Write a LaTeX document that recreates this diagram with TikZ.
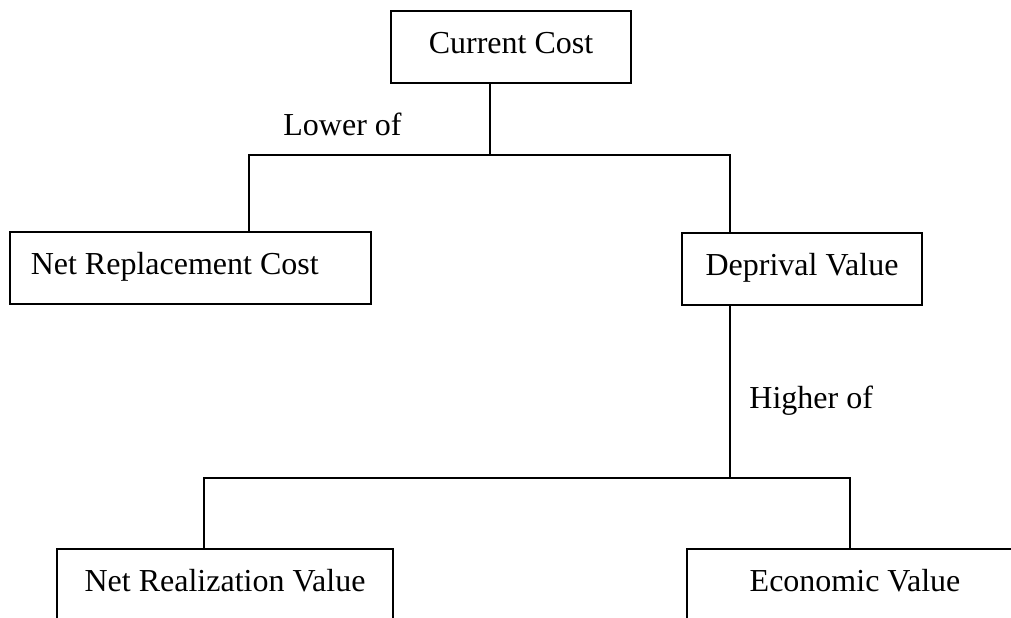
\documentclass[tikz,border=0pt]{standalone}
\usepackage{fontspec}
\setmainfont{Liberation Serif}
\usetikzlibrary{positioning}

\begin{document}
\begin{tikzpicture}[x=0.5pt, y=-0.5pt,
		every node/.style={font=\fontsize{16pt}{19pt}\selectfont},
		box/.style={draw, line width=0.75pt, inner xsep=0pt, inner ysep=0pt, text height=21pt, text depth=15pt},
		tag/.style={inner sep=0pt, anchor=base west},
		wire/.style={line width=0.75pt}]
			\useasboundingbox (0, 0) rectangle (1011, 617);
			\clip (0, 0) rectangle (1011, 617);
			% boxes
			\node[box, anchor=base, minimum width=120pt] (cc) at (511, 53) {Current Cost};
			\node[box, anchor=base west, inner xsep=10.5pt, text width=159.5pt, align=flush left] (nrc) at (9, 274) {Net Replacement Cost};
			\node[box, anchor=base, minimum width=120pt] (dv) at (802, 275) {Deprival Value};
			\node[box, anchor=base, minimum width=168pt] (nrv) at (225, 591) {Net Realization Value};
			\node[box, anchor=base, minimum width=168pt] (ev) at (855, 591) {Economic Value};
			% labels
			\node[tag] (lower) at (283, 135) {Lower of};
			\node[tag] (higher) at (749, 408) {Higher of};
			% upper tree
			\coordinate (upl) at (249, 155);
			\coordinate (upr) at (730, 155);
			\draw[wire] (cc.south -| 490, 0) -- (490, 155);
			\draw[wire] (nrc.north -| upl) -- (upl) -- (upr) -- (dv.north -| upr);
			% lower tree
			\coordinate (lol) at (204, 478);
			\coordinate (lor) at (850, 478);
			\draw[wire] (dv.south -| 730, 0) -- (730, 478);
			\draw[wire] (nrv.north -| lol) -- (lol) -- (lor) -- (ev.north -| lor);
\end{tikzpicture}
\end{document}
